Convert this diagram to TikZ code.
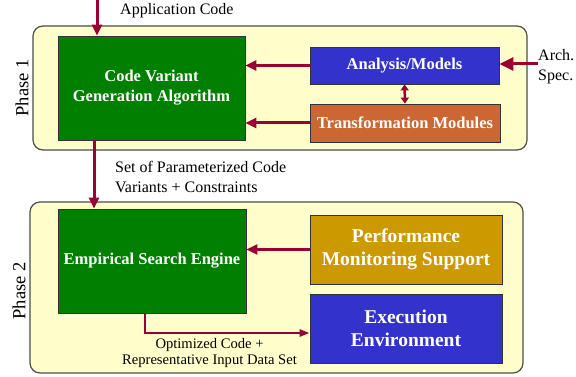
\documentclass[tikz,border=0pt]{standalone}
\usepackage{fontspec}
\setmainfont{Liberation Serif}
\usetikzlibrary{arrows.meta}

\definecolor{phasebg}{HTML}{FFFFCC}
\definecolor{arrred}{HTML}{990033}
\definecolor{boxgreen}{HTML}{007F00}
\definecolor{boxblue}{HTML}{3333CC}
\definecolor{boxorange}{HTML}{CC6633}
\definecolor{boxgold}{HTML}{CC9900}

\begin{document}
\begin{tikzpicture}[x=1pt, y=-1pt,
    phase/.style={draw=black!70, line width=1.2pt, fill=phasebg, rounded corners=10pt},
    block/.style={draw=black!80, line width=0.8pt, text=white, align=center, inner sep=0pt,
        font=\bfseries\fontsize{16.5}{20}\selectfont},
    bigblock/.style={block, font=\bfseries\fontsize{19.5}{23}\selectfont},
    flow/.style={draw=arrred, line width=3pt, -{Triangle[length=11pt,width=10pt]}},
    note/.style={font=\fontsize{16}{20}\selectfont, align=left, inner sep=0pt}]
    \useasboundingbox (0,0) rectangle (576,377);

    % Draw the two phase panels
    \node[phase, minimum width=494pt, minimum height=124pt] (phase1) at (280,88) {};
    \node[phase, minimum width=493pt, minimum height=171pt] (phase2) at (276.5,287.5) {};
    \node[rotate=90, font=\fontsize{18.5}{20}\selectfont] (lab1) at (22,88) {Phase 1};
    \node[rotate=90, font=\fontsize{18.5}{20}\selectfont] (lab2) at (19,291) {Phase 2};

    % Draw nodes for phase 1
    \node[block, fill=boxgreen, minimum width=187pt, minimum height=104pt] (gen) at (151.5,88) {Code Variant\\Generation Algorithm};
    \node[block, fill=boxblue, minimum width=189pt, minimum height=37pt] (ana) at (404.5,65.5) {Analysis/Models};
    \node[block, fill=boxorange, minimum width=190pt, minimum height=38pt] (trans) at (405,123) {Transformation Modules};

    % Draw nodes for phase 2
    \node[block, fill=boxgreen, minimum width=188pt, minimum height=104pt] (search) at (152,261) {Empirical Search Engine};
    \node[bigblock, fill=boxgold, minimum width=192pt, minimum height=69pt] (perf) at (406,249.5) {Performance\\Monitoring Support};
    \node[bigblock, fill=boxblue, minimum width=192pt, minimum height=69pt] (exec) at (406,328.5) {Execution\\Environment};

    % Free ends of the input arrows
    \coordinate (appsrc) at (97,0);
    \coordinate (archsrc) at (538,64);

    % Draw the arrows
    \draw[flow] (appsrc) -- (appsrc |- gen.north); % application code in
    \draw[flow] (ana.west) -- (ana.west -| gen.east);
    \draw[flow] (trans.west) -- (trans.west -| gen.east);
    \draw[draw=arrred, line width=2.5pt, {Triangle[length=6pt,width=8pt]}-{Triangle[length=6pt,width=8pt]}] (ana.south) -- (trans.north);
    \draw[flow, -{Triangle[length=14pt,width=13pt]}] (archsrc) -- (archsrc -| ana.east); % arch. spec. in
    \draw[flow] ([xshift=-57.5pt]gen.south) -- ([xshift=-58pt]search.north);
    \draw[flow] (perf.west) -- (perf.west -| search.east);
    \draw[flow, line width=2.5pt, -{Triangle[length=10pt,width=7pt]}] ([xshift=-7pt]search.south) |- ([yshift=-4.5pt]exec.west);

    % Draw the labels
    \node[note, anchor=west] (applab) at (120,11) {Application Code};
    \node[note, anchor=west] (setlab) at (115,177) {Set of Parameterized Code\\Variants + Constraints};
    \node[note, anchor=west] (archlab) at (538,67) {Arch.\\Spec.};
    \node[note, align=center, font=\fontsize{14.6}{16}\selectfont] (optlab) at (209.5,353) {Optimized Code +\\Representative Input Data Set};
\end{tikzpicture}
\end{document}
